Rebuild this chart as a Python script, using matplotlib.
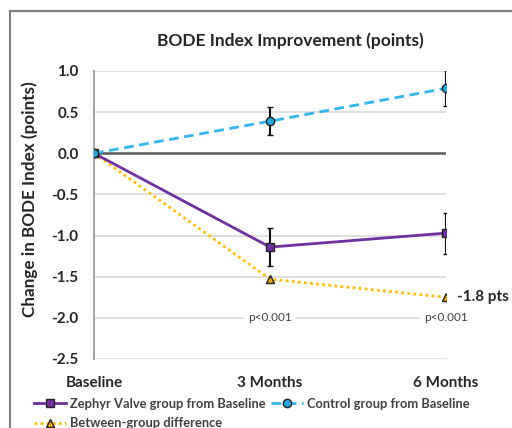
import matplotlib
matplotlib.use("Agg")
import matplotlib.pyplot as plt
from matplotlib.patches import Rectangle
from matplotlib.lines import Line2D

categories = ["Baseline", "3 Months", "6 Months"]
zephyr = [0.0, -1.14, -0.97]
zephyr_err = [0.0, 0.23, 0.25]
control = [0.0, 0.39, 0.79]
control_err = [0.0, 0.17, 0.22]
between = [0.0, -1.53, -1.75]
p_labels = ["", "p<0.001", "p<0.001"]
end_label = "-1.8 pts"
yticks = [1.0, 0.5, 0.0, -0.5, -1.0, -1.5, -2.0, -2.5]

plt.rcParams['font.family'] = ['Lato', 'DejaVu Sans']

fig = plt.figure(figsize=(5.12, 4.28), dpi=100)
fig.patches.append(Rectangle((10/512, -0.1), 1.2, 1 - 11/428 + 0.1, transform=fig.transFigure,
                             fill=False, edgecolor='#808080', linewidth=1.6, zorder=0))

ax = fig.add_axes([94/512, 1 - 359/428, (446 - 94)/512, (359 - 71)/428])
x = list(range(len(categories)))

for yv in yticks:
    if yv == 0.0:
        continue
    ax.axhline(yv, color='#D9D9D9', linewidth=1.2, zorder=1)
ax.axhline(0.0, color='#595959', linewidth=1.8, zorder=2)

z_style = dict(color='#7030A0', linewidth=2, marker='s', markersize=5.5,
               markerfacecolor='#7030A0', markeredgecolor='#222222', markeredgewidth=1)
c_style = dict(color='#33B5F0', linewidth=2, linestyle=(0, (3.5, 2)), marker='o', markersize=6,
               markerfacecolor='#1CA8E0', markeredgecolor='#222222', markeredgewidth=1)
b_style = dict(color='#FFC000', linewidth=2, linestyle=(0, (1, 1.2)), marker='^', markersize=6,
               markerfacecolor='#E6A800', markeredgecolor='#222222', markeredgewidth=1)

ax.errorbar(x, zephyr, yerr=zephyr_err, ecolor='#111111', elinewidth=1.5, capsize=2.5,
            capthick=1.5, zorder=4, **z_style)
ax.errorbar(x, control, yerr=control_err, ecolor='#111111', elinewidth=1.5, capsize=2.5,
            capthick=1.5, zorder=4, **c_style)
ax.plot(x, between, zorder=3, **b_style)

for xi, lab in zip(x, p_labels):
    if lab:
        ax.text(xi, -2.0, lab, ha='center', va='center', fontsize=8.5, color='#404040',
                bbox=dict(facecolor='white', edgecolor='none', pad=3), zorder=2)
ax.text(x[-1] + 0.06, between[-1], end_label, ha='left', va='center', fontsize=11,
        fontweight='bold', color='#262626', clip_on=False)

ax.set_xlim(0, 2)
ax.set_ylim(-2.5, 1.0)
ax.set_yticks(yticks)
ax.set_yticklabels([f"{v:.1f}" for v in yticks], fontsize=11, fontweight='bold', color='#262626')
ax.set_xticks(x)
ax.set_xticklabels(categories, fontsize=11, fontweight='bold', color='#262626')
ax.tick_params(axis='both', length=0)
ax.tick_params(axis='y', pad=11)
ax.tick_params(axis='x', pad=12)
for s in ['top', 'right', 'bottom']:
    ax.spines[s].set_visible(False)
ax.spines['left'].set_color('#A6A6A6')
ax.spines['left'].set_linewidth(1.5)

fig.text(290/512, 1 - 41/428, "BODE Index Improvement (points)", ha='center', va='center',
         fontsize=12.5, fontweight='bold', color='#262626')
fig.text(30/512, 1 - 199/428, "Change in BODE Index (points)", rotation=90, ha='center', va='center',
         fontsize=12.3, fontweight='bold', color='#262626')

handles = [Line2D([], [], **z_style), Line2D([], [], **b_style), Line2D([], [], **c_style)]
labels = ['Zephyr Valve group from Baseline', 'Between-group difference', 'Control group from Baseline']
leg = fig.legend(handles, labels, ncol=2, loc='upper left',
                 bbox_to_anchor=(34/512, 1 - 398/428), frameon=False,
                 prop={'weight': 'bold', 'size': 9.3}, handlelength=2.5, handletextpad=0.3,
                 columnspacing=0.4, labelspacing=0.55, borderaxespad=0, borderpad=0)
for t in leg.get_texts():
    t.set_color('#404040')

fig.savefig("out.png", dpi=100)
